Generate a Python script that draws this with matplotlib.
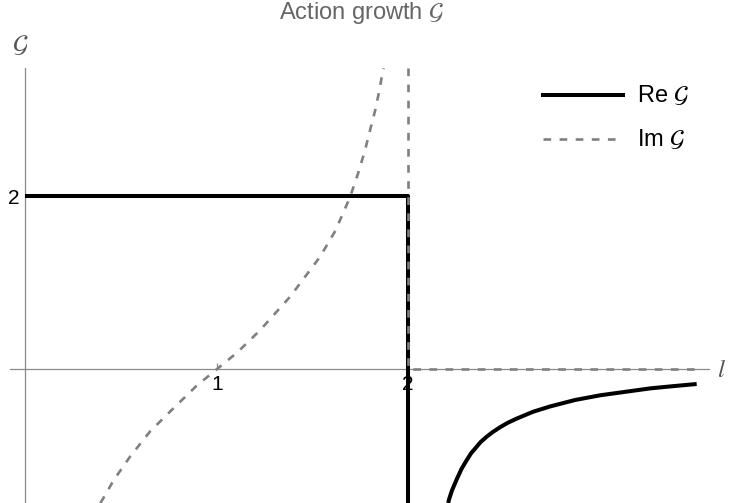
import matplotlib
matplotlib.use("Agg")
import matplotlib.pyplot as plt
from matplotlib.lines import Line2D

plt.rcParams['font.family'] = ['Liberation Sans', 'DejaVu Sans']
plt.rcParams['mathtext.fontset'] = 'stix'

# ---- data ----
# Im G, left branch
im_x = [0.392, 0.406, 0.462, 0.547, 0.651, 0.765, 0.895, 1.0, 1.105,
        1.226, 1.384, 1.54, 1.62, 1.697, 1.74, 1.775, 1.80, 1.828, 1.85,
        1.866, 1.873]
im_y = [-1.546, -1.495, -1.28, -1.01, -0.72, -0.47, -0.19, 0.0, 0.19,
        0.45, 0.84, 1.30, 1.60, 1.99, 2.27, 2.53, 2.75, 2.99, 3.22,
        3.42, 3.48]
# Im G, jump at x=2 and zero beyond
im2_x = [2.0, 2.0, 3.509]
im2_y = [3.48, 0.0, 0.0]

# Re G: constant 2 up to x=2, then drop
re1_x = [0.0, 2.0, 2.0]
re1_y = [2.0, 2.0, -1.546]
# Re G right branch
re2_x = [2.21, 2.215, 2.23, 2.255, 2.28, 2.307, 2.33, 2.359, 2.38, 2.411,
         2.44, 2.481, 2.52, 2.568, 2.655, 2.742, 2.873, 3.006, 3.137, 3.268,
         3.385, 3.509]
re2_y = [-1.546, -1.50, -1.40, -1.27, -1.15, -1.05, -0.97, -0.895, -0.84,
         -0.78, -0.73, -0.67, -0.62, -0.57, -0.49, -0.43, -0.355, -0.30,
         -0.26, -0.22, -0.195, -0.17]

xticks = [1, 2]
yticks = [2]
title = r"Action growth $\mathcal{G}$"
ylabel = r"$\mathcal{G}$"
xlabel = r"$l$"
legend_labels = [r"Re $\mathcal{G}$", r"Im $\mathcal{G}$"]

# ---- figure ----
W, H = 729, 503
fig = plt.figure(figsize=(W / 100, H / 100), dpi=100)
ax = fig.add_axes([0, 0, 1, 1])
ax.patch.set_visible(False)

x0px, xs = 25.4, 191.3
y0px, ys = 369.3, 86.5
ax.set_xlim((0 - x0px) / xs, (W - x0px) / xs)
ax.set_ylim((y0px - H) / ys, y0px / ys)

black = 'black'
gray = '#808080'
axcol = '#8a8a8a'
blw, glw = 2.9, 1.9
dash = (2.9, 3.2)

ax.plot(re1_x, re1_y, color=black, lw=blw, solid_capstyle='butt', zorder=3)
ax.plot(re2_x, re2_y, color=black, lw=blw, solid_capstyle='butt',
        solid_joinstyle='round', zorder=3)
ax.plot(im_x, im_y, color=gray, lw=glw, dashes=dash, zorder=4)
ax.plot(im2_x, im2_y, color=gray, lw=glw, dashes=dash, zorder=4)

for s in ['top', 'right']:
    ax.spines[s].set_visible(False)
ax.spines['left'].set_position(('data', 0))
ax.spines['bottom'].set_position(('data', 0))
ax.spines['left'].set_bounds(-1.546, 3.48)
ax.spines['bottom'].set_bounds(-0.08, 3.574)
for s in ['left', 'bottom']:
    ax.spines[s].set_color(axcol)
    ax.spines[s].set_linewidth(0.9)
    ax.spines[s].set_zorder(1)
ax.set_axisbelow(True)

ax.set_xticks(xticks)
ax.set_yticks(yticks)
ax.set_xticklabels([str(t) for t in xticks])
ax.set_yticklabels([str(t) for t in yticks])
ax.tick_params(axis='both', direction='in', length=4, width=0.9, color=axcol,
               labelsize=15, labelcolor='black')
ax.tick_params(axis='x', pad=4)
ax.tick_params(axis='y', pad=4)

# texts
fig.text(362 / W, 1 - 13 / H, title, ha='center', va='center', fontsize=17,
         color='#666666')
fig.text(20 / W, 1 - 45 / H, ylabel, ha='center', va='center', fontsize=18,
         color='#555555')
fig.text(717 / W, 1 - 370 / H, xlabel, ha='left', va='center', fontsize=18,
         color='#555555')

# legend
fig.add_artist(Line2D([543 / W, 623 / W], [1 - 95 / H, 1 - 95 / H],
                      color=black, lw=blw, transform=fig.transFigure))
fig.add_artist(Line2D([543 / W, 623 / W], [1 - 139 / H, 1 - 139 / H],
                      color=gray, lw=glw, dashes=dash,
                      transform=fig.transFigure))
fig.text(637 / W, 1 - 95 / H, legend_labels[0], ha='left', va='center',
         fontsize=17, color='black')
fig.text(637 / W, 1 - 139 / H, legend_labels[1], ha='left', va='center',
         fontsize=17, color='black')

fig.savefig('out.png', dpi=100)
